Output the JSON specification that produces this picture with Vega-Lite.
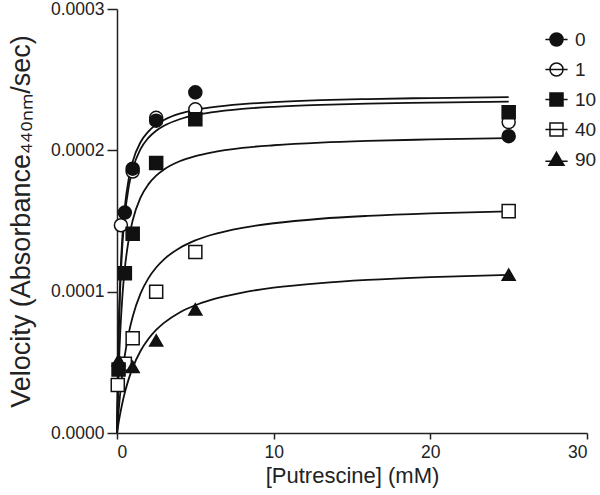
{
  "$schema": "https://vega.github.io/schema/vega-lite/v6.json",
  "width": 470,
  "height": 424,
  "autosize": {"type": "none"},
  "padding": {"left": 117, "top": 9, "right": 13, "bottom": 62},
  "config": {
    "view": {"stroke": null},
    "font": "Liberation Sans",
    "axis": {
      "grid": false,
      "domainColor": "#222222",
      "domainWidth": 1.5,
      "tickColor": "#222222",
      "tickWidth": 1.5,
      "labelFont": "Liberation Sans",
      "labelFontSize": 17.5,
      "labelColor": "#222222",
      "titleFont": "Liberation Sans",
      "titleFontWeight": "normal",
      "titleColor": "#222222"
    }
  },
  "datasets": {
    "curves": [
      {"series": "0", "x": 0, "v": 0},
      {"series": "0", "x": 0.1, "v": 0.0000686},
      {"series": "0", "x": 0.2, "v": 0.0001067},
      {"series": "0", "x": 0.35, "v": 0.00014},
      {"series": "0", "x": 0.5, "v": 0.00016},
      {"series": "0", "x": 0.75, "v": 0.00018},
      {"series": "0", "x": 1, "v": 0.000192},
      {"series": "0", "x": 1.5, "v": 0.0002057},
      {"series": "0", "x": 2, "v": 0.0002133},
      {"series": "0", "x": 2.5, "v": 0.0002182},
      {"series": "0", "x": 3, "v": 0.0002215},
      {"series": "0", "x": 4, "v": 0.0002259},
      {"series": "0", "x": 5, "v": 0.0002286},
      {"series": "0", "x": 6, "v": 0.0002304},
      {"series": "0", "x": 8, "v": 0.0002327},
      {"series": "0", "x": 10, "v": 0.0002341},
      {"series": "0", "x": 13, "v": 0.0002355},
      {"series": "0", "x": 16, "v": 0.0002363},
      {"series": "0", "x": 20, "v": 0.000237},
      {"series": "0", "x": 25, "v": 0.0002376},
      {"series": "1", "x": 0, "v": 0},
      {"series": "1", "x": 0.1, "v": 0.0000641},
      {"series": "1", "x": 0.2, "v": 0.0001009},
      {"series": "1", "x": 0.35, "v": 0.0001338},
      {"series": "1", "x": 0.5, "v": 0.0001539},
      {"series": "1", "x": 0.75, "v": 0.0001743},
      {"series": "1", "x": 1, "v": 0.0001866},
      {"series": "1", "x": 1.5, "v": 0.0002008},
      {"series": "1", "x": 2, "v": 0.0002088},
      {"series": "1", "x": 2.5, "v": 0.0002139},
      {"series": "1", "x": 3, "v": 0.0002174},
      {"series": "1", "x": 4, "v": 0.000222},
      {"series": "1", "x": 5, "v": 0.0002249},
      {"series": "1", "x": 6, "v": 0.0002268},
      {"series": "1", "x": 8, "v": 0.0002293},
      {"series": "1", "x": 10, "v": 0.0002308},
      {"series": "1", "x": 13, "v": 0.0002322},
      {"series": "1", "x": 16, "v": 0.0002331},
      {"series": "1", "x": 20, "v": 0.0002338},
      {"series": "1", "x": 25, "v": 0.0002345},
      {"series": "10", "x": 0, "v": 0},
      {"series": "10", "x": 0.1, "v": 0.0000416},
      {"series": "10", "x": 0.2, "v": 0.0000695},
      {"series": "10", "x": 0.35, "v": 0.0000976},
      {"series": "10", "x": 0.5, "v": 0.0001165},
      {"series": "10", "x": 0.75, "v": 0.0001371},
      {"series": "10", "x": 1, "v": 0.0001504},
      {"series": "10", "x": 1.5, "v": 0.0001665},
      {"series": "10", "x": 2, "v": 0.0001759},
      {"series": "10", "x": 2.5, "v": 0.0001821},
      {"series": "10", "x": 3, "v": 0.0001865},
      {"series": "10", "x": 4, "v": 0.0001923},
      {"series": "10", "x": 5, "v": 0.0001959},
      {"series": "10", "x": 6, "v": 0.0001984},
      {"series": "10", "x": 8, "v": 0.0002017},
      {"series": "10", "x": 10, "v": 0.0002036},
      {"series": "10", "x": 13, "v": 0.0002055},
      {"series": "10", "x": 16, "v": 0.0002067},
      {"series": "10", "x": 20, "v": 0.0002077},
      {"series": "10", "x": 25, "v": 0.0002086},
      {"series": "40", "x": 0, "v": 0},
      {"series": "40", "x": 0.1, "v": 0.0000151},
      {"series": "40", "x": 0.2, "v": 0.0000276},
      {"series": "40", "x": 0.35, "v": 0.0000429},
      {"series": "40", "x": 0.5, "v": 0.0000551},
      {"series": "40", "x": 0.75, "v": 0.0000707},
      {"series": "40", "x": 1, "v": 0.0000823},
      {"series": "40", "x": 1.5, "v": 0.0000986},
      {"series": "40", "x": 2, "v": 0.0001094},
      {"series": "40", "x": 2.5, "v": 0.0001171},
      {"series": "40", "x": 3, "v": 0.0001229},
      {"series": "40", "x": 4, "v": 0.0001309},
      {"series": "40", "x": 5, "v": 0.0001363},
      {"series": "40", "x": 6, "v": 0.0001401},
      {"series": "40", "x": 8, "v": 0.0001452},
      {"series": "40", "x": 10, "v": 0.0001484},
      {"series": "40", "x": 13, "v": 0.0001516},
      {"series": "40", "x": 16, "v": 0.0001536},
      {"series": "40", "x": 20, "v": 0.0001554},
      {"series": "40", "x": 25, "v": 0.0001568},
      {"series": "90", "x": 0, "v": 0},
      {"series": "90", "x": 0.1, "v": 0.0000071},
      {"series": "90", "x": 0.2, "v": 0.0000134},
      {"series": "90", "x": 0.35, "v": 0.0000216},
      {"series": "90", "x": 0.5, "v": 0.0000286},
      {"series": "90", "x": 0.75, "v": 0.0000383},
      {"series": "90", "x": 1, "v": 0.0000461},
      {"series": "90", "x": 1.5, "v": 0.000058},
      {"series": "90", "x": 2, "v": 0.0000665},
      {"series": "90", "x": 2.5, "v": 0.0000729},
      {"series": "90", "x": 3, "v": 0.0000779},
      {"series": "90", "x": 4, "v": 0.0000853},
      {"series": "90", "x": 5, "v": 0.0000904},
      {"series": "90", "x": 6, "v": 0.0000942},
      {"series": "90", "x": 8, "v": 0.0000994},
      {"series": "90", "x": 10, "v": 0.0001028},
      {"series": "90", "x": 13, "v": 0.0001061},
      {"series": "90", "x": 16, "v": 0.0001083},
      {"series": "90", "x": 20, "v": 0.0001103},
      {"series": "90", "x": 25, "v": 0.0001119}
    ],
    "points": [
      {"series": "1", "x": 0.25, "v": 0.000147},
      {"series": "1", "x": 1, "v": 0.000185},
      {"series": "1", "x": 2.5, "v": 0.000223},
      {"series": "1", "x": 5, "v": 0.000229},
      {"series": "1", "x": 25, "v": 0.00022},
      {"series": "0", "x": 0.5, "v": 0.000156},
      {"series": "0", "x": 1, "v": 0.000187},
      {"series": "0", "x": 2.5, "v": 0.000221},
      {"series": "0", "x": 5, "v": 0.000241},
      {"series": "0", "x": 25, "v": 0.00021},
      {"series": "40", "x": 0.05, "v": 0.000034},
      {"series": "40", "x": 0.5, "v": 0.000049},
      {"series": "40", "x": 1, "v": 0.000067},
      {"series": "40", "x": 2.5, "v": 0.0001},
      {"series": "40", "x": 5, "v": 0.000128},
      {"series": "40", "x": 25, "v": 0.000157},
      {"series": "10", "x": 0.1, "v": 0.000045},
      {"series": "10", "x": 0.5, "v": 0.000113},
      {"series": "10", "x": 1, "v": 0.000141},
      {"series": "10", "x": 2.5, "v": 0.000191},
      {"series": "10", "x": 5, "v": 0.000222},
      {"series": "10", "x": 25, "v": 0.000227},
      {"series": "90", "x": 0.1, "v": 0.0000515},
      {"series": "90", "x": 1, "v": 0.0000468},
      {"series": "90", "x": 2.5, "v": 0.0000655},
      {"series": "90", "x": 5, "v": 0.0000875},
      {"series": "90", "x": 25, "v": 0.000112}
    ]
  },
  "layer": [
    {
      "data": {"name": "curves"},
      "mark": {"type": "line", "interpolate": "monotone", "color": "#111111", "strokeWidth": 1.8},
      "encoding": {
        "x": {"field": "x", "type": "quantitative", "scale": {"domain": [0, 30], "nice": false},
              "axis": {"values": [0, 10, 20, 30], "title": "[Putrescine] (mM)", "tickSize": 6, "labelPadding": 4, "titlePadding": 5, "titleFontSize": 22}},
        "y": {"field": "v", "type": "quantitative", "scale": {"domain": [0, 0.0003], "nice": false},
              "axis": {"values": [0, 0.0001, 0.0002, 0.0003], "format": ".4f", "title": "Velocity (Absorbance₄₄₀ₙₘ/sec)", "tickSize": 10, "labelPadding": 3, "titlePadding": 15, "titleFontSize": 27}},
        "detail": {"field": "series", "type": "nominal"}
      }
    },
    {
      "data": {"name": "points"},
      "mark": {"type": "point", "filled": true, "stroke": "#111111", "strokeWidth": 1.5, "size": 170, "opacity": 1},
      "encoding": {
        "x": {"field": "x", "type": "quantitative"},
        "y": {"field": "v", "type": "quantitative"},
        "shape": {
          "field": "series", "type": "nominal",
          "scale": {"domain": ["0", "1", "10", "40", "90", "none"], "range": ["circle", "circle", "square", "square", "triangle-up", "diamond"]},
          "legend": null
        },
        "fill": {
          "field": "series", "type": "nominal",
          "scale": {"domain": ["0", "1", "10", "40", "90"], "range": ["#111111", "#ffffff", "#111111", "#ffffff", "#111111"]},
          "legend": {
            "title": null,
            "orient": "none",
            "legendX": 430,
            "legendY": 21,
            "padding": 0,
            "rowPadding": 9,
            "symbolSize": 170,
            "symbolType": {"expr": "(datum.value === '0' || datum.value === '1') ? 'M-1,0A1,1,0,1,1,1,0A1,1,0,1,1,-1,0Z M-1.7,0L1.7,0' : (datum.value === '90' ? 'M0,-1.1L1.15,0.9L-1.15,0.9Z M-1.7,0.25L1.7,0.25' : 'M-1,-1L1,-1L1,1L-1,1Z M-1.7,0L1.7,0')"},
            "labelFontSize": 19,
            "labelColor": "#222222",
            "labelOffset": 9,
            "encode": {
              "symbols": {
                "stroke": {"value": "#111111"},
                "strokeWidth": {"value": 1.5}
              }
            }
          }
        }
      }
    }
  ]
}
